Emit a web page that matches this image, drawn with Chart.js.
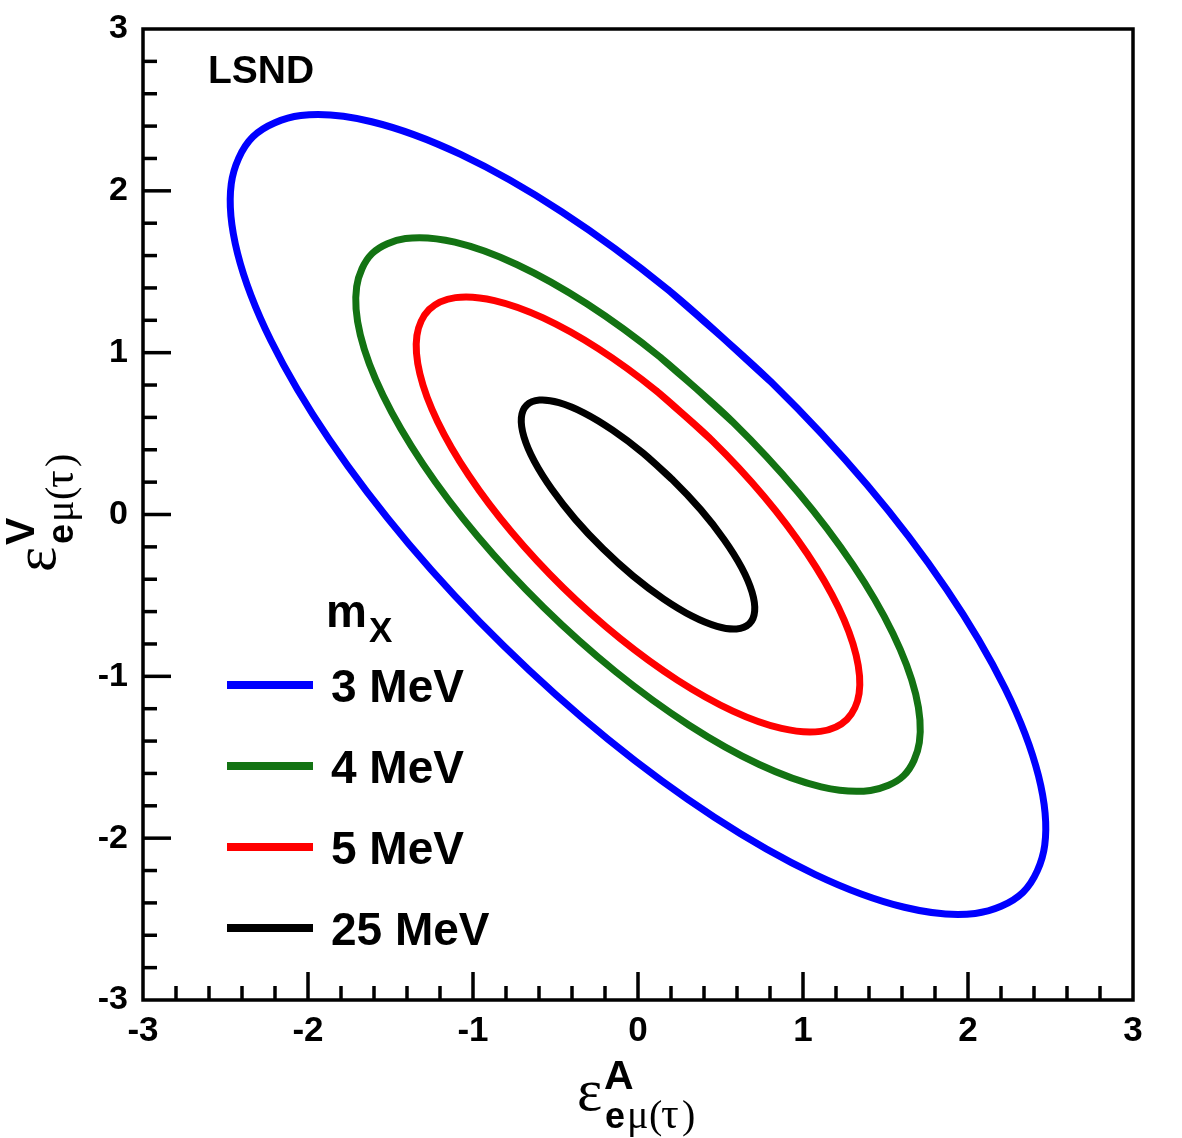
<!DOCTYPE html>
<html>
<head>
<meta charset="utf-8">
<script src="https://cdn.jsdelivr.net/npm/chart.js@4/dist/chart.umd.min.js"></script>
<style>
  html, body { margin: 0; padding: 0; background: #fff; }
  #wrap { width: 1182px; height: 1138px; position: relative; }
</style>
</head>
<body>
<div id="wrap"><canvas id="c"></canvas></div>
<script>
// contour points (x = eps^A, y = eps^V), closed loops
const mev3 = [
  [0.813, 0.813], [0.182, 1.389], [-0.463, 1.871], [-1.075, 2.225], [-1.614, 2.427], [-2.044, 2.465],
  [-2.334, 2.334], [-2.465, 2.044], [-2.427, 1.614], [-2.225, 1.075], [-1.871, 0.463], [-1.389, -0.182],
  [-0.813, -0.813], [-0.182, -1.389], [0.463, -1.871], [1.075, -2.225], [1.614, -2.427], [2.044, -2.465],
  [2.334, -2.334], [2.465, -2.044], [2.427, -1.614], [2.225, -1.075], [1.871, -0.463], [1.389, 0.182],
  [0.813, 0.813], [0.182, 1.389]
];
const mev4 = [
  [0.573, 0.573], [0.136, 0.971], [-0.310, 1.302], [-0.735, 1.545], [-1.110, 1.683], [-1.409, 1.705],
  [-1.612, 1.612], [-1.705, 1.409], [-1.683, 1.110], [-1.545, 0.735], [-1.302, 0.310], [-0.971, -0.136],
  [-0.573, -0.573], [-0.136, -0.971], [0.310, -1.302], [0.735, -1.545], [1.110, -1.683], [1.409, -1.705],
  [1.612, -1.612], [1.705, -1.409], [1.683, -1.110], [1.545, -0.735], [1.302, -0.310], [0.971, 0.136],
  [0.573, 0.573], [0.136, 0.971]
];
const mev5 = [
  [0.453, 0.453], [0.110, 0.765], [-0.241, 1.025], [-0.575, 1.215], [-0.870, 1.322], [-1.106, 1.340],
  [-1.266, 1.266], [-1.340, 1.106], [-1.322, 0.870], [-1.215, 0.575], [-1.025, 0.241], [-0.765, -0.110],
  [-0.453, -0.453], [-0.110, -0.765], [0.241, -1.025], [0.575, -1.215], [0.870, -1.322], [1.106, -1.340],
  [1.266, -1.266], [1.340, -1.106], [1.322, -0.870], [1.215, -0.575], [1.025, -0.241], [0.765, 0.110],
  [0.453, 0.453], [0.110, 0.765]
];
const mev25 = [
  [0.212, 0.212], [0.030, 0.380], [-0.154, 0.521], [-0.328, 0.628], [-0.479, 0.691], [-0.597, 0.707],
  [-0.675, 0.675], [-0.707, 0.597], [-0.691, 0.479], [-0.628, 0.328], [-0.521, 0.154], [-0.380, -0.030],
  [-0.212, -0.212], [-0.030, -0.380], [0.154, -0.521], [0.328, -0.628], [0.479, -0.691], [0.597, -0.707],
  [0.675, -0.675], [0.707, -0.597], [0.691, -0.479], [0.628, -0.328], [0.521, -0.154], [0.380, 0.030],
  [0.212, 0.212], [0.030, 0.380]
];

const legendLabels = ['3 MeV', '4 MeV', '5 MeV', '25 MeV'];
const lineColors = ['#0000ff', '#137313', '#ff0000', '#000000'];
const majorTicks = [-3, -2, -1, 0, 1, 2, 3];

const SANS = '"Liberation Sans", Arial, Helvetica, sans-serif';
const SERIF = '"Liberation Serif", "DejaVu Serif", serif';

function toPoints(arr) {
  return arr.map(function(p) { return { x: p[0], y: p[1] }; });
}

// frame, inner ticks, axis titles, legend, label
const decorations = {
  id: 'decorations',
  afterDraw(chart) {
    const ctx = chart.ctx;
    const area = chart.chartArea;
    const xs = chart.scales.x;
    const ys = chart.scales.y;

    ctx.save();
    ctx.strokeStyle = '#000';
    ctx.lineWidth = 3.5;
    ctx.strokeRect(area.left, area.top, area.right - area.left, area.bottom - area.top);

    // ticks every 0.2, major on integers
    for (let i = 1; i < 30; i++) {
      const v = -3 + i * 0.2;
      const len = (i % 5 === 0) ? 28 : 14;
      const px = xs.getPixelForValue(v);
      ctx.beginPath();
      ctx.moveTo(px, area.bottom);
      ctx.lineTo(px, area.bottom - len);
      ctx.stroke();
      const py = ys.getPixelForValue(v);
      ctx.beginPath();
      ctx.moveTo(area.left, py);
      ctx.lineTo(area.left + len, py);
      ctx.stroke();
    }

    ctx.fillStyle = '#000';
    ctx.textBaseline = 'alphabetic';
    ctx.textAlign = 'left';

    // LSND
    ctx.font = 'bold 39px ' + SANS;
    ctx.fillText('LSND', 208, 83);

    // legend
    ctx.font = 'bold 46px ' + SANS;
    ctx.fillText('m', 326, 627);
    ctx.font = 'bold 35px ' + SANS;
    ctx.fillText('X', 369, 642);
    const rows = [685, 766, 847, 928];
    legendLabels.forEach(function(lbl, i) {
      ctx.strokeStyle = lineColors[i];
      ctx.lineWidth = 8;
      ctx.beginPath();
      ctx.moveTo(227, rows[i]);
      ctx.lineTo(313, rows[i]);
      ctx.stroke();
      ctx.font = 'bold 46px ' + SANS;
      ctx.fillText(lbl, 331, rows[i] + 17);
    });

    // axis titles: epsilon with superscript and subscript
    function title(sup) {
      ctx.font = '60px ' + SERIF;
      ctx.fillText('\u03b5', 0, 0);
      ctx.font = 'bold 41px ' + SANS;
      ctx.fillText(sup, 27, -21);
      ctx.font = 'bold 36px ' + SANS;
      ctx.fillText('e', 28, 18);
      ctx.font = '40px ' + SERIF;
      ctx.fillText('\u03bc', 50, 18);
      ctx.fillText('(', 72, 18);
      ctx.font = '44px ' + SERIF;
      ctx.fillText('\u03c4', 84, 18);
      ctx.font = '40px ' + SERIF;
      ctx.fillText(')', 105, 18);
    }
    ctx.save();
    ctx.translate(577, 1110);
    title('A');
    ctx.restore();

    ctx.save();
    ctx.translate(55, 572);
    ctx.rotate(-Math.PI / 2);
    title('V');
    ctx.restore();

    ctx.restore();
  }
};

const curves = [mev3, mev4, mev5, mev25];

new Chart(document.getElementById('c').getContext('2d'), {
  type: 'scatter',
  data: {
    datasets: curves.map(function(c, i) {
      return {
        label: legendLabels[i],
        data: toPoints(c),
        showLine: true,
        borderColor: lineColors[i],
        backgroundColor: lineColors[i],
        borderWidth: 7,
        pointRadius: 0,
        tension: 0.33,
        fill: false
      };
    })
  },
  options: {
    responsive: true,
    maintainAspectRatio: false,
    animation: false,
    devicePixelRatio: 1,
    layout: { padding: { left: 0, right: 49, top: 29, bottom: 0 } },
    plugins: {
      legend: { display: false },
      tooltip: { enabled: false }
    },
    scales: {
      x: {
        type: 'linear',
        min: -3,
        max: 3,
        afterFit: function(s) { s.height = 138; s.paddingLeft = 0; s.paddingRight = 0; },
        afterBuildTicks: function(s) { s.ticks = majorTicks.map(function(v) { return { value: v }; }); },
        grid: { display: false, drawTicks: false },
        border: { display: false },
        ticks: {
          color: '#000',
          padding: 10,
          maxRotation: 0,
          font: { family: SANS, size: 35, weight: 'bold' }
        }
      },
      y: {
        type: 'linear',
        min: -3,
        max: 3,
        afterFit: function(s) { s.width = 143; s.paddingTop = 0; s.paddingBottom = 0; },
        afterBuildTicks: function(s) { s.ticks = majorTicks.map(function(v) { return { value: v }; }); },
        grid: { display: false, drawTicks: false },
        border: { display: false },
        ticks: {
          color: '#000',
          padding: 15,
          font: { family: SANS, size: 34, weight: 'bold' }
        }
      }
    }
  },
  plugins: [decorations]
});
</script>
</body>
</html>
